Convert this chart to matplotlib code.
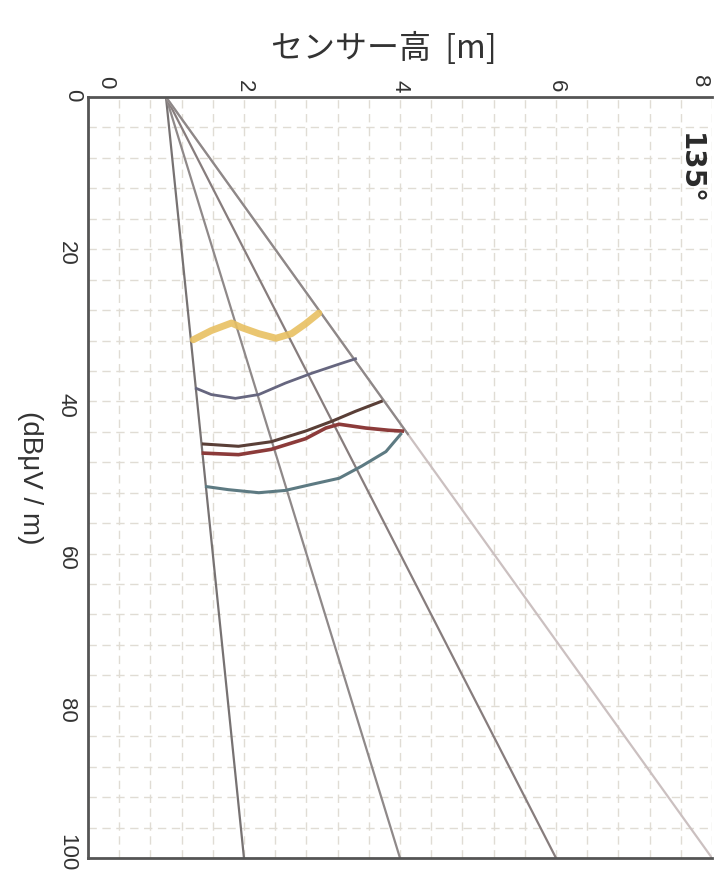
import numpy as np
import matplotlib.pyplot as plt
import matplotlib.transforms as mtransforms
from matplotlib.ticker import MultipleLocator

plt.rcParams['font.family'] = ['Noto Sans CJK JP', 'DejaVu Sans']

# traced curves: sensor height [m] vs field strength [dBμV/m]
yellow_h = [1.35, 1.58, 1.84, 1.97, 2.19, 2.41, 2.61, 2.79, 2.96]
yellow_db = [31.9, 30.7, 29.7, 30.3, 31.1, 31.7, 31.1, 29.8, 28.4]

slate_h = [1.39, 1.58, 1.89, 2.19, 2.53, 2.87, 3.22, 3.43]
slate_db = [38.3, 39.1, 39.6, 39.1, 37.6, 36.3, 35.1, 34.4]

brown_h = [1.48, 1.93, 2.35, 2.79, 3.13, 3.43, 3.76]
brown_db = [45.6, 45.9, 45.3, 43.9, 42.6, 41.3, 40.0]

red_h = [1.48, 1.93, 2.35, 2.79, 3.05, 3.22, 3.56, 3.86, 4.03]
red_db = [46.8, 47.0, 46.3, 44.9, 43.5, 43.0, 43.5, 43.8, 43.9]

teal_h = [1.52, 1.80, 2.19, 2.53, 2.87, 3.22, 3.51, 3.82, 4.01]
teal_db = [51.2, 51.6, 52.0, 51.7, 50.9, 50.1, 48.5, 46.6, 44.3]

# guide rays from the antenna point out to 100 dB
ray_origin_h = 1.0
ray_origin_db = 0.0
ray_end_h = [2.0, 4.0, 6.0, 8.0]
ray_end_db = 100.0
ray_colors = ['#777272', '#8f8989', '#877d7d', '#cbc0c0']

x_ticks = [0, 2, 4, 6, 8]
y_ticks = [0, 20, 40, 60, 80, 100]

fig = plt.figure(figsize=(7.21, 8.73), dpi=100)
ax = fig.add_axes([0.122, 0.0172, 0.8655, 0.8717])

ax.set_xlim(0, 8)
ax.set_ylim(100, 0)

# graph paper grid
ax.xaxis.set_minor_locator(MultipleLocator(0.4))
ax.yaxis.set_minor_locator(MultipleLocator(4))
ax.grid(which='both', color='#e0dcd4', linewidth=1.0,
        linestyle=(0, (6, 4)))
ax.set_axisbelow(True)

# rays
for h_end, c in zip(ray_end_h, ray_colors):
    ax.plot([ray_origin_h, h_end], [ray_origin_db, ray_end_db],
            color=c, linewidth=1.6, solid_capstyle='round')

# upper part of the outer ray is drawn darker, down to the lowest curve
outer_db = teal_db[-1]
outer_h = np.interp(outer_db, [ray_origin_db, ray_end_db],
                    [ray_origin_h, ray_end_h[-1]])
ax.plot([ray_origin_h, outer_h], [ray_origin_db, outer_db],
        color='#8e8888', linewidth=1.6)

# measured curves
ax.plot(yellow_h, yellow_db, color='#e8c062', linewidth=5, alpha=0.9,
        solid_capstyle='round')
ax.plot(slate_h, slate_db, color='#66667f', linewidth=2.0)
ax.plot(brown_h, brown_db, color='#5a3f37', linewidth=2.2)
ax.plot(red_h, red_db, color='#8c3b3a', linewidth=2.6)
ax.plot(teal_h, teal_db, color='#5d7a82', linewidth=2.2)

# axes frame
for side in ['left', 'top', 'bottom']:
    ax.spines[side].set_color('#555555')
    ax.spines[side].set_linewidth(2.0)
ax.spines['right'].set_visible(False)

ax.xaxis.tick_top()
ax.set_xticks(x_ticks)
ax.set_yticks(y_ticks)
ax.set_xticklabels([str(v) for v in x_ticks], family='Liberation Sans')
ax.set_yticklabels([str(v) for v in y_ticks], family='Liberation Sans')
ax.tick_params(which='both', length=0)
ax.tick_params(axis='x', labelrotation=-90, labelsize=16, pad=3,
               labelcolor='#333333')
ax.tick_params(axis='y', labelrotation=-90, labelsize=16, pad=8,
               labelcolor='#333333')

# nudge the corner and edge labels inside the figure
def nudge(label, dx, dy):
    off = mtransforms.ScaledTranslation(dx, dy, fig.dpi_scale_trans)
    label.set_transform(label.get_transform() + off)

nudge(ax.get_xticklabels()[0], 0.18, 0.04)
nudge(ax.get_xticklabels()[-1], -0.12, 0.05)
nudge(ax.get_yticklabels()[-1], 0.0, 0.16)
nudge(ax.get_yticklabels()[0], 0.06, 0.0)

ax.set_ylabel('(dBμV / m)', rotation=-90, fontsize=20, color='#333333',
              va='center', ha='center', family='Liberation Sans')
ax.yaxis.set_label_coords(-0.093, 0.5)

fig.text(0.533, 1 - 48 / 873, 'センサー高  [m]', fontsize=23,
         ha='center', va='center', color='#333333')

ax.text(7.72, 9.4, '135°', rotation=-90, fontsize=20, ha='center',
        va='center', color='#2a2a2a', family='DejaVu Sans',
        fontweight='bold')

fig.savefig('out.png', dpi=100)
